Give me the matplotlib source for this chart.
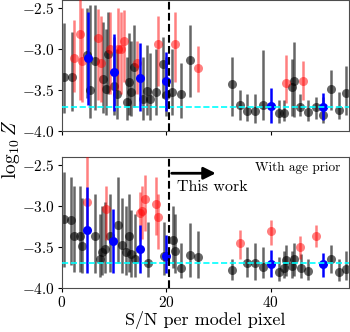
import numpy as np
import matplotlib
matplotlib.use("Agg")
import matplotlib.pyplot as plt

plt.rcParams['font.family'] = 'serif'
plt.rcParams['font.serif'] = ['cmr10']
plt.rcParams['mathtext.fontset'] = 'cm'
plt.rcParams['axes.formatter.use_mathtext'] = True
plt.rcParams['axes.unicode_minus'] = True

# ---- top panel data: x, y, lower end, upper end of error bar
top_black_x = [0.4, 1.85, 4.85, 5.4, 6.3, 7.9, 8.4, 8.9, 10.0, 10.6, 12.4, 12.9, 13.2, 13.85,
               15.6, 16.3, 16.9, 18.0, 19.4, 19.9, 21.0, 22.9, 24.5, 32.6, 34.1, 35.5, 37.0,
               38.6, 41.6, 42.6, 44.0, 44.5, 45.6, 47.1, 48.6, 50.1, 51.5, 53.1, 54.5]
top_black_y = [-3.34, -3.34, -3.07, -3.50, -3.15, -3.36, -3.48, -3.06, -3.45, -3.55, -3.64, -3.40,
               -3.52, -3.22, -3.61, -3.51, -3.61, -3.52, -3.18, -3.56, -3.52, -3.55, -3.13, -3.43,
               -3.68, -3.76, -3.76, -3.68, -3.78, -3.78, -3.46, -3.39, -3.70, -3.77, -3.71, -3.80,
               -3.48, -3.74, -3.53]
top_black_lo = [-3.78, -3.76, -3.60, -3.84, -3.74, -3.78, -3.80, -3.55, -3.80, -3.85, -3.86, -3.80,
                -3.82, -3.70, -3.86, -3.80, -3.86, -3.80, -3.60, -3.82, -3.80, -3.84, -3.58, -3.82,
                -3.86, -3.88, -3.90, -3.87, -3.90, -3.88, -3.82, -3.83, -3.82, -3.88, -3.85, -3.90,
                -3.74, -3.85, -3.80]
top_black_hi = [-2.68, -2.79, -2.50, -2.46, -2.46, -2.67, -2.75, -2.55, -2.85, -3.00, -3.10, -2.80,
                -2.90, -2.70, -3.10, -2.95, -3.05, -3.00, -2.85, -3.10, -3.00, -3.17, -2.70, -3.10,
                -3.50, -3.55, -3.55, -3.01, -3.62, -3.62, -3.12, -2.91, -3.55, -3.62, -3.58, -3.58,
                -3.26, -3.52, -3.20]

top_red_x = [2.4, 3.45, 3.8, 7.0, 7.5, 9.3, 10.8, 11.3, 11.9, 14.3, 18.45, 21.6, 26.0, 43.0, 46.1]
top_red_y = [-3.11, -2.81, -3.15, -2.86, -3.17, -3.00, -3.00, -3.00, -2.90, -3.17, -2.94, -2.94,
             -3.23, -3.41, -3.39]
top_red_lo = [-3.52, -3.62, -3.65, -3.62, -3.65, -3.55, -3.50, -3.55, -3.40, -3.55, -3.45, -3.40,
              -3.52, -3.66, -3.62]
top_red_hi = [-2.65, -2.35, -2.50, -2.51, -2.60, -2.55, -2.50, -2.55, -2.52, -2.90, -2.60, -2.55,
              -2.96, -3.07, -3.15]

top_blue_x = [4.9, 9.96, 14.9, 19.9, 40.0, 50.1]
top_blue_y = [-3.11, -3.28, -3.35, -3.39, -3.69, -3.70]
top_blue_lo = [-3.68, -3.76, -3.76, -3.76, -3.90, -3.86]
top_blue_hi = [-2.55, -2.81, -2.93, -3.03, -3.47, -3.53]

# ---- bottom panel data (with age prior)
bot_black_x = [0.4, 1.7, 2.3, 3.45, 3.8, 6.3, 7.3, 7.7, 8.2, 9.2, 10.8, 11.6, 12.2, 12.9, 13.3,
               14.0, 16.5, 19.6, 21.3, 21.6, 22.9, 24.5, 26.0, 32.6, 35.5, 37.0, 38.6, 41.6, 42.6,
               43.0, 44.0, 44.5, 45.9, 47.1, 51.5, 53.1, 54.5]
bot_black_y = [-3.16, -3.17, -3.37, -3.36, -3.49, -3.37, -3.64, -3.56, -3.52, -3.37, -3.23, -3.47,
               -3.56, -3.37, -3.58, -3.64, -3.69, -3.61, -3.41, -3.55, -3.75, -3.60, -3.62, -3.78,
               -3.70, -3.70, -3.74, -3.80, -3.75, -3.66, -3.73, -3.65, -3.75, -3.79, -3.65, -3.81,
               -3.77]
bot_black_lo = [-3.74, -3.72, -3.80, -3.80, -3.82, -3.82, -3.86, -3.84, -3.82, -3.80, -3.70, -3.82,
                -3.84, -3.80, -3.86, -3.86, -3.86, -3.84, -3.75, -3.82, -3.88, -3.86, -3.88, -3.90,
                -3.86, -3.90, -3.88, -3.92, -3.88, -3.85, -3.88, -3.85, -3.88, -3.90, -3.82, -3.92,
                -3.90]
bot_black_hi = [-2.58, -2.65, -2.75, -2.75, -2.90, -2.85, -3.10, -3.00, -2.95, -2.85, -2.65, -2.90,
                -3.00, -2.85, -3.05, -3.10, -3.20, -3.20, -3.00, -3.10, -3.45, -3.21, -3.30, -3.65,
                -3.50, -3.45, -3.50, -3.62, -3.55, -3.48, -3.55, -3.45, -3.58, -3.65, -3.48, -3.65,
                -3.55]

bot_red_x = [4.85, 8.4, 14.9, 15.4, 16.0, 18.0, 18.4, 34.1, 40.0, 45.6, 48.6]
bot_red_y = [-2.95, -3.04, -3.09, -3.06, -2.91, -2.97, -3.13, -3.45, -3.31, -3.50, -3.37]
bot_red_lo = [-3.25, -3.41, -3.43, -3.40, -3.30, -3.35, -3.53, -3.64, -3.48, -3.65, -3.50]
bot_red_hi = [-2.35, -2.76, -2.83, -2.75, -2.62, -2.65, -2.85, -3.29, -3.17, -3.37, -3.23]

bot_blue_x = [4.85, 9.8, 14.9, 19.9, 40.0, 50.1]
bot_blue_y = [-3.29, -3.43, -3.52, -3.61, -3.71, -3.71]
bot_blue_lo = [-3.82, -3.82, -3.82, -3.82, -3.86, -3.86]
bot_blue_hi = [-2.77, -3.03, -3.23, -3.35, -3.54, -3.57]

z_true = -3.7
sn_cut = 20.5


def draw(ax, x, y, lo, hi, color, alpha, z):
    x = np.array(x); y = np.array(y)
    yerr = [y - np.array(lo), np.array(hi) - y]
    ax.errorbar(x, y, yerr=yerr, fmt='o', color=color, ms=6.5, elinewidth=1.8,
                alpha=alpha, mec='none', zorder=z)


fig = plt.figure(figsize=(3.5, 3.32), dpi=100)
ax1 = fig.add_axes([0.177, 0.605, 0.82, 0.395])
ax2 = fig.add_axes([0.177, 0.1325, 0.82, 0.395])

for ax, blk, red, blu in [
        (ax1, (top_black_x, top_black_y, top_black_lo, top_black_hi),
         (top_red_x, top_red_y, top_red_lo, top_red_hi),
         (top_blue_x, top_blue_y, top_blue_lo, top_blue_hi)),
        (ax2, (bot_black_x, bot_black_y, bot_black_lo, bot_black_hi),
         (bot_red_x, bot_red_y, bot_red_lo, bot_red_hi),
         (bot_blue_x, bot_blue_y, bot_blue_lo, bot_blue_hi))]:
    draw(ax, *blk, 'k', 0.6, 2)
    draw(ax, *red, 'red', 0.5, 3)
    draw(ax, *blu, 'blue', 1.0, 4)
    ax.axhline(z_true, color='cyan', ls='--', lw=1.2, zorder=5)
    ax.axvline(sn_cut, color='k', ls='--', lw=1.5, zorder=6)
    ax.set_xlim(0, 55)
    ax.set_ylim(-4.0, -2.4)
    ax.set_yticks([-4.0, -3.5, -3.0, -2.5])
    ax.set_xticks([0, 20, 40])
    ax.tick_params(labelsize=11, length=3, pad=2)
    for s in ax.spines.values():
        s.set_color('0.3')

ax1.set_xticklabels([])
ax2.set_xlabel('S/N per model pixel', fontsize=13, labelpad=1)

ax2.annotate('', xy=(30, -2.6), xytext=(sn_cut, -2.6),
             arrowprops=dict(arrowstyle='-|>', lw=2, mutation_scale=18, color='k'))
ax2.text(22.0, -2.77, 'This work', fontsize=11.5, va='center', ha='left')
ax2.text(53.3, -2.53, 'With age prior', fontsize=9.5, va='center', ha='right')

fig.text(0.03, 0.55, r'$\log_{10} Z$', rotation=90, fontsize=14, va='center', ha='center')

fig.savefig('out.png', dpi=100)
